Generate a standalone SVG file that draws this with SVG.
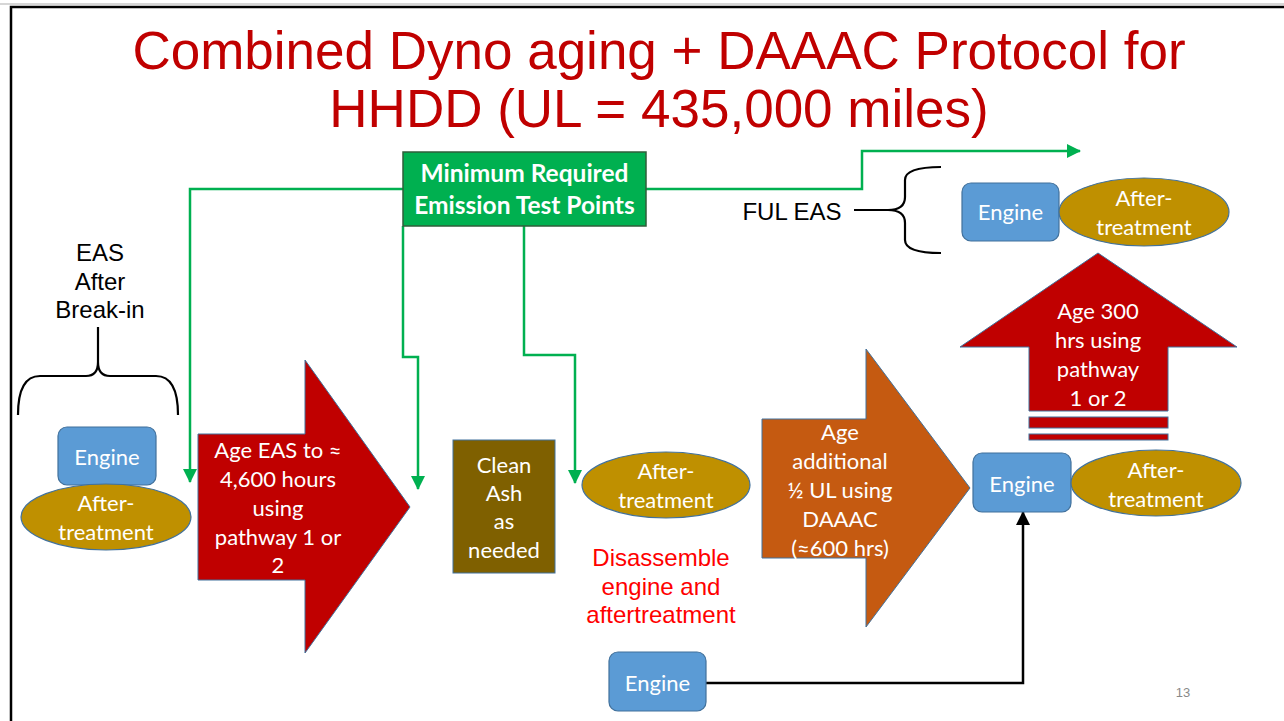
<svg xmlns="http://www.w3.org/2000/svg" width="1284" height="721" viewBox="0 0 1284 721">
  <style>
    .title { font-family: "Liberation Sans", Arial, sans-serif; font-size: 53px; fill: #C00000; }
    .lbl { font-family: "Lato", "Open Sans", sans-serif; font-size: 22px; fill: #FFFFFF; text-anchor: middle; }
    .bold { font-weight: bold; font-size: 24.5px; }
    .plain { font-family: "Liberation Sans", Arial, sans-serif; font-size: 24px; fill: #000000; text-anchor: middle; }
    .redtxt { font-family: "Liberation Sans", Arial, sans-serif; font-size: 24px; fill: #FF0000; text-anchor: middle; }
    .engine { fill: #5B9BD5; stroke: #41719C; stroke-width: 1.2; }
    .after { fill: #BF9000; stroke: #41719C; stroke-width: 1.2; }
    .green { fill: none; stroke: #00B050; stroke-width: 2.5; }
    .black { fill: none; stroke: #000000; stroke-width: 2.5; }
    .brace { fill: none; stroke: #000000; stroke-width: 2.2; }
    .shape-edge { stroke: #41719C; stroke-width: 1; }
  </style>
  <defs>
    <marker id="gArrow" markerUnits="userSpaceOnUse" markerWidth="14" markerHeight="14" viewBox="0 0 14 14" refX="13" refY="7" orient="auto">
      <path d="M0,0 L14,7 L0,14 Z" fill="#00B050"/>
    </marker>
    <marker id="kArrow" markerUnits="userSpaceOnUse" markerWidth="14" markerHeight="14" viewBox="0 0 14 14" refX="13" refY="7" orient="auto">
      <path d="M0,0 L14,7 L0,14 Z" fill="#000000"/>
    </marker>
  </defs>

  <rect x="0" y="0" width="1284" height="721" fill="#FFFFFF"/>
  <!-- slide frame -->
  <line x1="0" y1="4" x2="1284" y2="4" stroke="#C8C8C8" stroke-width="1.5"/>
  <path d="M11,721 L11,7 L1284,7" fill="none" stroke="#000000" stroke-width="2.5"/>

  <!-- title -->
  <text class="title" x="659" y="69" text-anchor="middle">Combined Dyno aging + DAAAC Protocol for</text>
  <text class="title" x="659" y="127" text-anchor="middle">HHDD (UL = 435,000 miles)</text>

  <!-- connectors -->
  <g id="connectors">
    <path class="green" d="M403,189 L190,189 L190,482" marker-end="url(#gArrow)"/>
    <path class="green" d="M403,226 L403,357 L418,357 L418,489" marker-end="url(#gArrow)"/>
    <path class="green" d="M524,226 L524,355 L575,355 L575,483" marker-end="url(#gArrow)"/>
    <path class="green" d="M646,189 L862,189 L862,151 L1080,151" marker-end="url(#gArrow)"/>
    <path class="black" d="M706,683 L1023,683 L1023,512" marker-end="url(#kArrow)"/>
  </g>

  <!-- test point box -->
  <g id="test-points">
    <rect x="403" y="152" width="243" height="74" fill="#00B050" stroke="#2F5E3A" stroke-width="1.5"/>
    <text class="lbl bold" x="524.5" y="182">Minimum Required</text>
    <text class="lbl bold" x="524.5" y="214">Emission Test Points</text>
  </g>

  <!-- break-in label and brace -->
  <g id="eas-break-in">
    <text class="plain" x="100" y="261">EAS</text>
    <text class="plain" x="100" y="290">After</text>
    <text class="plain" x="100" y="318">Break-in</text>
    <path class="brace" d="M18,415 Q18,376 40,376 L86,376 Q98,376 98,362 L98,327 M98,362 Q98,376 110,376 L156,376 Q178,376 178,415"/>
  </g>

  <!-- starting engine + aftertreatment -->
  <g id="engine-start">
    <rect class="engine" x="58" y="427" width="98" height="58" rx="9"/>
    <text class="lbl" x="107" y="465">Engine</text>
  </g>
  <g id="after-start">
    <ellipse class="after" cx="106" cy="517" rx="85" ry="33"/>
    <text class="lbl" x="106" y="511">After-</text>
    <text class="lbl" x="106" y="540">treatment</text>
  </g>

  <!-- aging step 1 -->
  <g id="age-eas">
    <path class="shape-edge" fill="#C00000" d="M198,434 L305,434 L305,360 L410,507 L305,653 L305,580 L198,580 Z"/>
    <text class="lbl" x="278" y="458">Age EAS to ≈</text>
    <text class="lbl" x="278" y="487">4,600 hours</text>
    <text class="lbl" x="278" y="516">using</text>
    <text class="lbl" x="278" y="545">pathway 1 or</text>
    <text class="lbl" x="278" y="573">2</text>
  </g>

  <!-- ash cleaning -->
  <g id="clean-ash">
    <rect class="shape-edge" fill="#7F6000" x="453" y="440" width="102" height="133"/>
    <text class="lbl" x="504" y="473">Clean</text>
    <text class="lbl" x="504" y="501">Ash</text>
    <text class="lbl" x="504" y="529">as</text>
    <text class="lbl" x="504" y="558">needed</text>
  </g>

  <!-- aftertreatment after cleaning -->
  <g id="after-mid">
    <ellipse class="after" cx="666" cy="485" rx="84" ry="33"/>
    <text class="lbl" x="666" y="479">After-</text>
    <text class="lbl" x="666" y="508">treatment</text>
  </g>

  <g id="disassemble-note">
    <text class="redtxt" x="661" y="566">Disassemble</text>
    <text class="redtxt" x="661" y="595">engine and</text>
    <text class="redtxt" x="661" y="623">aftertreatment</text>
  </g>

  <!-- aging step 2 (DAAAC) -->
  <g id="age-daaac">
    <path class="shape-edge" fill="#C55A11" d="M762,419 L866,419 L866,349 L970,488 L866,627 L866,558 L762,558 Z"/>
    <text class="lbl" x="840" y="440">Age</text>
    <text class="lbl" x="840" y="469">additional</text>
    <text class="lbl" x="840" y="498">½ UL using</text>
    <text class="lbl" x="840" y="527">DAAAC</text>
    <text class="lbl" x="840" y="556">(≈600 hrs)</text>
  </g>

  <!-- reassembled engine + aftertreatment -->
  <g id="engine-mid">
    <rect class="engine" x="973" y="453" width="98" height="59" rx="9"/>
    <text class="lbl" x="1022" y="492">Engine</text>
  </g>
  <g id="after-right">
    <ellipse class="after" cx="1156" cy="483" rx="85" ry="33"/>
    <text class="lbl" x="1156" y="478">After-</text>
    <text class="lbl" x="1156" y="507">treatment</text>
  </g>

  <!-- aging step 3 (striped up arrow) -->
  <g id="age-300">
    <path class="shape-edge" fill="#C00000" d="M1029,411 L1029,347 L960,347 L1098,253 L1237,347 L1168,347 L1168,411 Z"/>
    <rect class="shape-edge" fill="#C00000" x="1029" y="417" width="139" height="11"/>
    <rect class="shape-edge" fill="#C00000" x="1029" y="434" width="139" height="6"/>
    <text class="lbl" x="1098" y="319">Age 300</text>
    <text class="lbl" x="1098" y="348">hrs using</text>
    <text class="lbl" x="1098" y="377">pathway</text>
    <text class="lbl" x="1098" y="406">1 or 2</text>
  </g>

  <!-- full useful life EAS -->
  <g id="ful-eas">
    <text class="plain" x="792" y="220">FUL EAS</text>
    <path class="brace" d="M854,210 L888,210 Q905,210 905,197 L905,180 Q905,167 941,167 M888,210 Q905,210 905,223 L905,240 Q905,253 941,253"/>
  </g>
  <g id="engine-ful">
    <rect class="engine" x="962" y="183" width="97" height="58" rx="9"/>
    <text class="lbl" x="1010.5" y="220">Engine</text>
  </g>
  <g id="after-ful">
    <ellipse class="after" cx="1144" cy="212" rx="85" ry="34"/>
    <text class="lbl" x="1144" y="206">After-</text>
    <text class="lbl" x="1144" y="235">treatment</text>
  </g>

  <!-- spare engine -->
  <g id="engine-new">
    <rect class="engine" x="609" y="652" width="97" height="59" rx="9"/>
    <text class="lbl" x="657.5" y="691">Engine</text>
  </g>

  <text x="1183" y="697" font-family="Liberation Sans, Arial, sans-serif" font-size="13" fill="#898989" text-anchor="middle">13</text>
</svg>
